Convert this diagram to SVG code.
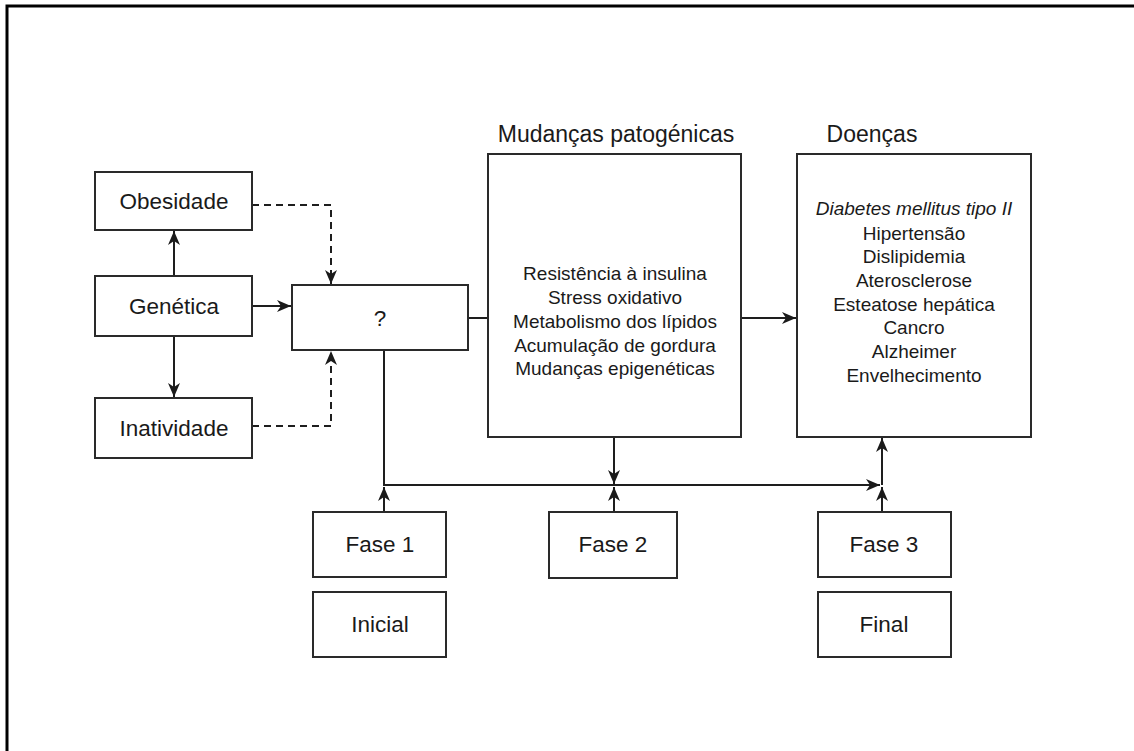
<svg xmlns="http://www.w3.org/2000/svg" width="1134" height="751" viewBox="0 0 1134 751">
<defs>
<marker id="arr" viewBox="0 0 14 12" markerWidth="14" markerHeight="12" refX="14" refY="6" orient="auto" markerUnits="userSpaceOnUse">
<path d="M0,0 L14,6 L0,12 L4,6 z" fill="#1a1a1a"/>
</marker>
<style>
.box{fill:#fff;stroke:#2a2a2a;stroke-width:2}
.lbl{font-family:"Liberation Sans",Arial,sans-serif;font-size:22.5px;fill:#1a1a1a;text-anchor:middle}
.ttl{font-family:"Liberation Sans",Arial,sans-serif;font-size:23px;fill:#1a1a1a;text-anchor:middle}
.lst{font-family:"Liberation Sans",Arial,sans-serif;font-size:19px;fill:#1a1a1a;text-anchor:middle}
.ln{fill:none;stroke:#1e1e1e;stroke-width:2}
.dash{stroke-dasharray:7,5}
</style>
</defs>
<rect width="1134" height="751" fill="#fff"/>
<g id="frame">
<path d="M7,751 V6 H1134" fill="none" stroke="#000" stroke-width="3"/>
</g>
<g id="connectors">
<path class="ln" d="M174,276 V231" marker-end="url(#arr)"/>
<path class="ln" d="M174,336 V397" marker-end="url(#arr)"/>
<path class="ln" d="M252,306 H291" marker-end="url(#arr)"/>
<path class="ln dash" d="M252,205 H331 V284" marker-end="url(#arr)"/>
<path class="ln dash" d="M252,426 H331 V351" marker-end="url(#arr)"/>
<path class="ln" d="M468,318 H488"/>
<path class="ln" d="M741,318 H796" marker-end="url(#arr)"/>
<path class="ln" d="M384,350 V485 H880" marker-end="url(#arr)"/>
<path class="ln" d="M384,512 V487" marker-end="url(#arr)"/>
<path class="ln" d="M614,437 V484" marker-end="url(#arr)"/>
<path class="ln" d="M614,512 V487" marker-end="url(#arr)"/>
<path class="ln" d="M882,512 V487" marker-end="url(#arr)"/>
<path class="ln" d="M882,485 V438" marker-end="url(#arr)"/>
</g>
<g id="obesidade"><rect class="box" x="95" y="172" width="157" height="58"/><text class="lbl" x="174" y="209">Obesidade</text></g>
<g id="genetica"><rect class="box" x="95" y="276" width="157" height="60"/><text class="lbl" x="174" y="314">Genética</text></g>
<g id="inatividade"><rect class="box" x="95" y="398" width="157" height="60"/><text class="lbl" x="174" y="436">Inatividade</text></g>
<g id="q"><rect class="box" x="292" y="285" width="176" height="65"/><text class="lbl" x="380" y="326">?</text></g>
<g id="mudancas">
<text class="ttl" x="616" y="142">Mudanças patogénicas</text>
<rect class="box" x="488" y="154" width="253" height="283"/>
<text class="lst" x="615" y="280">Resistência à insulina</text>
<text class="lst" x="615" y="304">Stress oxidativo</text>
<text class="lst" x="615" y="328">Metabolismo dos lípidos</text>
<text class="lst" x="615" y="352">Acumulação de gordura</text>
<text class="lst" x="615" y="375">Mudanças epigenéticas</text>
</g>
<g id="doencas">
<text class="ttl" x="872" y="142">Doenças</text>
<rect class="box" x="797" y="154" width="234" height="283"/>
<text class="lst" x="914" y="215" font-style="italic">Diabetes mellitus tipo II</text>
<text class="lst" x="914" y="240">Hipertensão</text>
<text class="lst" x="914" y="263">Dislipidemia</text>
<text class="lst" x="914" y="287">Aterosclerose</text>
<text class="lst" x="914" y="311">Esteatose hepática</text>
<text class="lst" x="914" y="334">Cancro</text>
<text class="lst" x="914" y="358">Alzheimer</text>
<text class="lst" x="914" y="382">Envelhecimento</text>
</g>
<g id="fase1"><rect class="box" x="313" y="512" width="133" height="65"/><text class="lbl" x="380" y="552">Fase 1</text></g>
<g id="inicial"><rect class="box" x="313" y="592" width="133" height="65"/><text class="lbl" x="380" y="632">Inicial</text></g>
<g id="fase2"><rect class="box" x="549" y="512" width="128" height="66"/><text class="lbl" x="613" y="552">Fase 2</text></g>
<g id="fase3"><rect class="box" x="818" y="512" width="133" height="65"/><text class="lbl" x="884" y="552">Fase 3</text></g>
<g id="final"><rect class="box" x="818" y="592" width="133" height="65"/><text class="lbl" x="884" y="632">Final</text></g>
</svg>
